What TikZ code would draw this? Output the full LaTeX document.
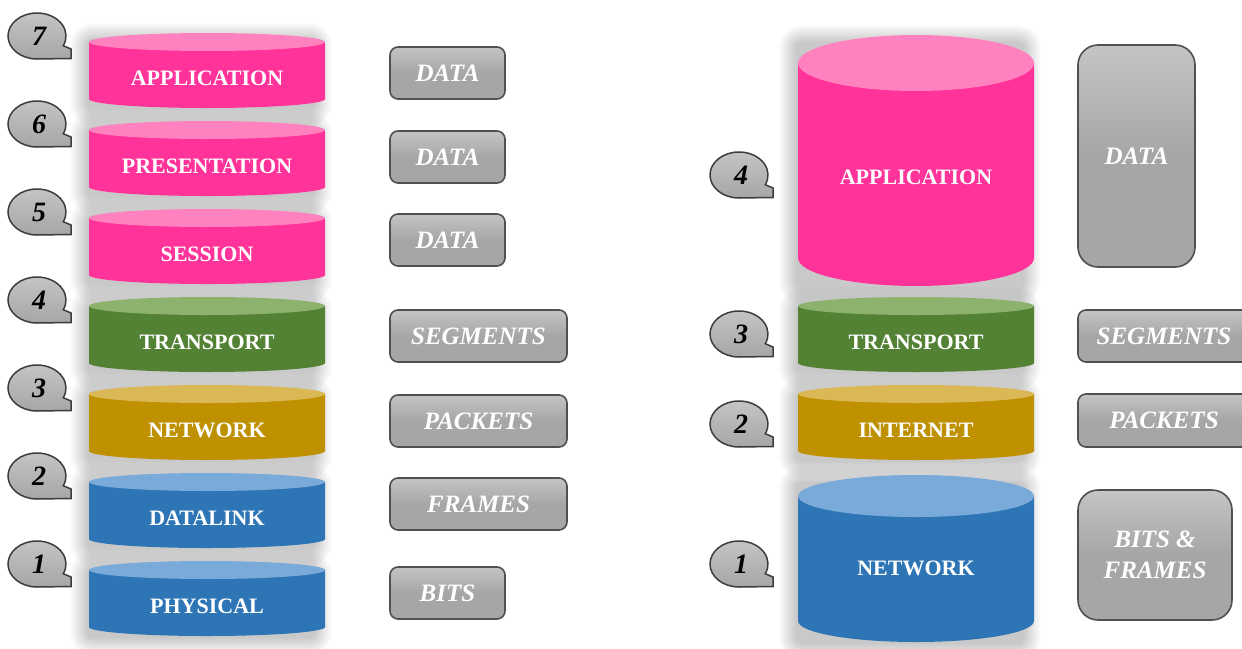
\documentclass[tikz,border=0pt]{standalone}
\usepackage{fontspec}
\setmainfont{Liberation Serif}
\usetikzlibrary{calc}

% layer colours: body and lighter top face
\definecolor{pinkbody}{RGB}{255,51,153}
\definecolor{pinktop}{RGB}{255,130,190}
\definecolor{greenbody}{RGB}{84,130,53}
\definecolor{greentop}{RGB}{140,178,110}
\definecolor{goldbody}{RGB}{191,144,0}
\definecolor{goldtop}{RGB}{218,184,86}
\definecolor{bluebody}{RGB}{46,117,182}
\definecolor{bluetop}{RGB}{122,170,218}
\definecolor{tagfill}{RGB}{166,166,166}
\definecolor{taglight}{RGB}{196,196,196}
\definecolor{tagedge}{RGB}{80,80,80}
\definecolor{bubbleedge}{RGB}{60,60,60}

\tikzset{
  layertext/.style={text=white, font=\fontsize{22}{26}\selectfont\bfseries, inner sep=0pt},
  softshade/.style={fill=black, opacity=0.013},
  tagbox/.style={draw=tagedge, line width=1.6pt, rounded corners=8pt,
      top color=taglight, bottom color=tagfill, middle color=tagfill,
      text=white, font=\fontsize{25}{31}\selectfont\bfseries\itshape,
      align=center, inner sep=0pt},
  bubble/.style={draw=bubbleedge, line width=1.5pt, top color=taglight, bottom color=tagfill},
  numtext/.style={text=black, font=\fontsize{28}{30}\selectfont\bfseries\itshape, inner sep=0pt},
}

% cylinder: name, cx, ytop, ybottom, ry, colour, label, label y, rx
\newcommand{\osilayer}[9]{%
  % soft drop shadow, built from stacked translucent layers
  \foreach \s in {-4,...,13}{
    \fill[softshade, rounded corners=10+\s] (#2-#9-6-\s,#3-#5+3-\s) rectangle (#2+#9-6+\s,#4+#5+6+\s);
  }
  \fill[#6body] (#2-#9,#3) -- (#2-#9,#4)
     arc[start angle=180, end angle=0, x radius=#9, y radius=#5] -- (#2+#9,#3) -- cycle;
  \fill[#6top] (#2,#3) ellipse[x radius=#9, y radius=#5];
  \node[layertext] (#1) at (#2,#8) {#7};
}

% numbered speech bubble: name, cx, cy, number
\newcommand{\numbubble}[4]{%
  \draw[bubble] (#2,#3+23) arc[start angle=90, end angle=385, x radius=29, y radius=23]
     -- (#2+34,#3+13) -- (#2+34,#3+22.5) -- cycle;
  \node[numtext] (#1) at (#2+2,#3) {#4};
}

\begin{document}
\begin{tikzpicture}[x=1pt, y=-1pt]
\useasboundingbox (0,0) rectangle (1242,648);
\fill[white] (0,0) rectangle (1242,648);

% ---------------- seven-layer stack ----------------
\osilayer{app7}{207}{42}{99}{9}{pink}{APPLICATION}{78}{118}
\osilayer{pres}{207}{130}{187}{9}{pink}{PRESENTATION}{166}{118}
\osilayer{sess}{207}{218}{275}{9}{pink}{SESSION}{254}{118}
\osilayer{trans7}{207}{306}{363}{9}{green}{TRANSPORT}{342}{118}
\osilayer{net7}{207}{394}{451}{9}{gold}{NETWORK}{430}{118}
\osilayer{dlink}{207}{482}{539}{9}{blue}{DATALINK}{518}{118}
\osilayer{phys}{207}{570}{627}{9}{blue}{PHYSICAL}{606}{118}

\numbubble{n7}{37}{36}{7}
\numbubble{n6}{37}{124}{6}
\numbubble{n5}{37}{212}{5}
\numbubble{n4}{37}{300}{4}
\numbubble{n3}{37}{388}{3}
\numbubble{n2}{37}{476}{2}
\numbubble{n1}{37}{564}{1}

\node[tagbox, minimum width=115pt, minimum height=52pt] (d7) at (447.5,73) {DATA};
\node[tagbox, minimum width=115pt, minimum height=52pt] (d6) at (447.5,157) {DATA};
\node[tagbox, minimum width=115pt, minimum height=52pt] (d5) at (447.5,240) {DATA};
\node[tagbox, minimum width=177pt, minimum height=52pt] (seg7) at (478.5,336) {SEGMENTS};
\node[tagbox, minimum width=177pt, minimum height=52pt] (pkt7) at (478.5,421) {PACKETS};
\node[tagbox, minimum width=177pt, minimum height=52pt] (frm7) at (478.5,504) {FRAMES};
\node[tagbox, minimum width=115pt, minimum height=52pt] (bits7) at (447.5,593) {BITS};

% ---------------- four-layer stack ----------------
\osilayer{app4}{916}{63}{258}{28}{pink}{APPLICATION}{177}{118}
\osilayer{trans4}{916}{306}{363}{9}{green}{TRANSPORT}{342}{118}
\osilayer{inet}{916}{394}{451}{9}{gold}{INTERNET}{430}{118}
\osilayer{net4}{916}{496}{621}{21}{blue}{NETWORK}{568}{118}

\numbubble{m4}{739}{175}{4}
\numbubble{m3}{739}{334}{3}
\numbubble{m2}{739}{424}{2}
\numbubble{m1}{739}{564}{1}

\node[tagbox, rounded corners=20pt, minimum width=117pt, minimum height=222pt] (data4) at (1136.5,156) {DATA};
\node[tagbox, minimum width=172pt, minimum height=52pt] (seg4) at (1164,336) {SEGMENTS};
\node[tagbox, minimum width=172pt, minimum height=53pt] (pkt4) at (1164,420.5) {PACKETS};
\node[tagbox, rounded corners=20pt, minimum width=154pt, minimum height=130pt] (bf4) at (1155,555) {BITS \&\\FRAMES};
\end{tikzpicture}
\end{document}
